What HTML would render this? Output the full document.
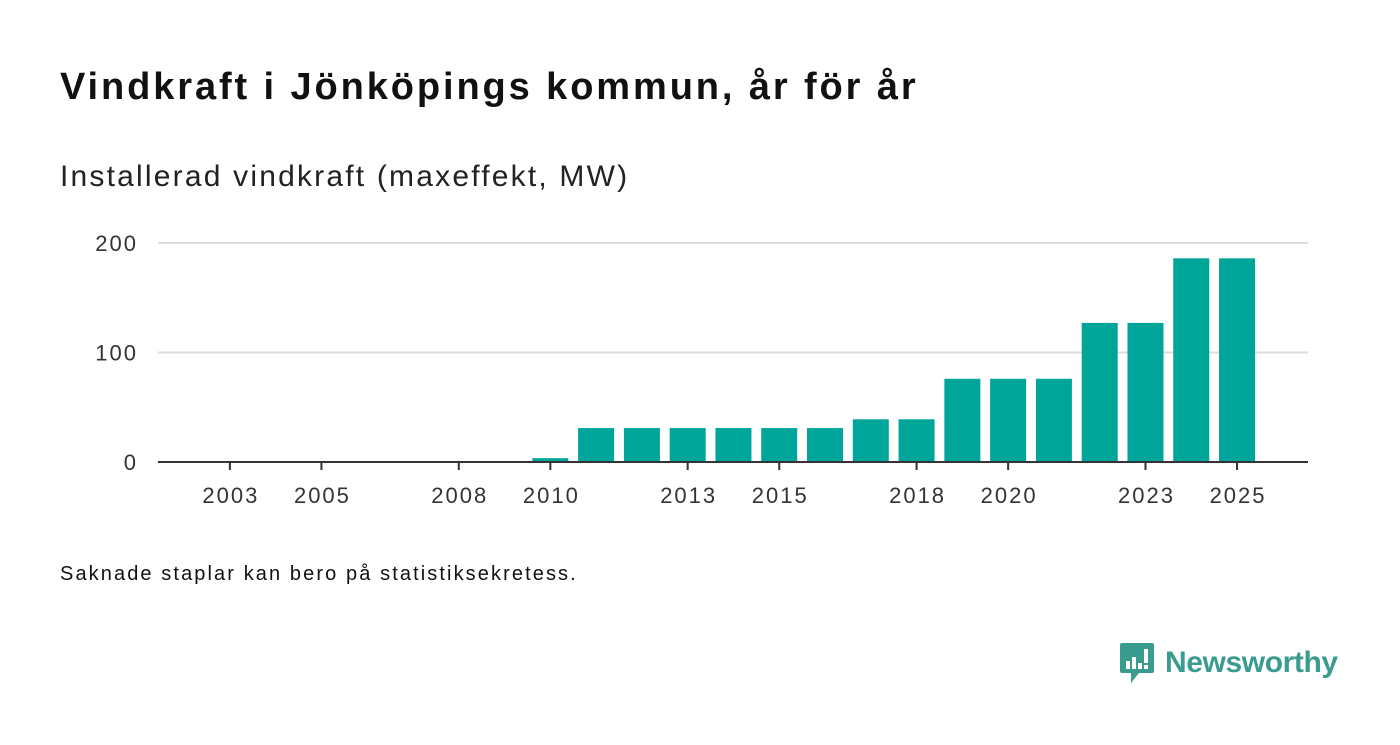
<!DOCTYPE html>
<html><head><meta charset="utf-8"><style>
body{margin:0;width:1400px;height:745px;background:#fff;font-family:"Liberation Sans",sans-serif;overflow:hidden;position:relative;color:#111}
.t{position:absolute;white-space:nowrap}
</style></head><body>
<div class="t" style="left:60px;top:66px;font-size:38px;font-weight:bold;letter-spacing:2.9px">Vindkraft i Jönköpings kommun, år för år</div>
<div class="t" style="left:60px;top:160px;font-size:30px;color:#222;letter-spacing:2.2px">Installerad vindkraft (maxeffekt, MW)</div>
<svg id="chart" width="1400" height="560" style="position:absolute;left:0;top:0"></svg>
<div class="t" style="left:60px;top:563px;font-size:20px;letter-spacing:2.1px">Saknade staplar kan bero på statistiksekretess.</div>
<div class="t" style="left:1119px;top:641px;display:flex;align-items:center">
<svg width="36" height="44" viewBox="0 0 36 44"><path d="M3 2h30a2 2 0 0 1 2 2v26a2 2 0 0 1-2 2H20l-8 10v-10H3a2 2 0 0 1-2-2V4a2 2 0 0 1 2-2z" fill="#3a9c8f"/><rect x="7" y="20" width="4" height="8" fill="#fff"/><rect x="13" y="16" width="4" height="12" fill="#fff"/><rect x="19" y="22" width="4" height="6" fill="#fff"/><rect x="25" y="8" width="4" height="14" fill="#fff"/><rect x="25" y="24" width="4" height="4" fill="#fff"/></svg>
<span style="font-size:30px;font-weight:bold;color:#3a9c8f;margin-left:10px;letter-spacing:-0.4px">Newsworthy</span></div>
<script>
const years=[2010,2011,2012,2013,2014,2015,2016,2017,2018,2019,2020,2021,2022,2023,2024,2025];
const values=[3.5,31,31,31,31,31,31,39,39,76,76,76,127,127,186,186];
const xTicks=[2003,2005,2008,2010,2013,2015,2018,2020,2023,2025];
const yTicks=[0,100,200];
const svg=document.getElementById('chart');
const NS='http://www.w3.org/2000/svg';
const x=v=>158+(v-2001.43)*(1150/25.12);
const y=v=>462-v*1.095;
function mk(t,a){const e=document.createElementNS(NS,t);for(const k in a)e.setAttribute(k,a[k]);svg.appendChild(e);return e;}
yTicks.forEach(v=>{
 if(v>0){const g=mk('line',{x1:158,x2:1308,y1:y(v),y2:y(v),stroke:'#ddd','stroke-width':2});
 
 }
 const t=mk('text',{x:138,y:y(v)+8,'text-anchor':'end','font-size':22,fill:'#333','letter-spacing':2,'font-family':'Liberation Sans, sans-serif'});
 t.textContent=v;
 
 
});
years.forEach((yr,i)=>{
 const r=mk('rect',{x:x(yr)-18,width:36,y:y(values[i]),height:462-y(values[i]),fill:'#00a599'});
 
 
});
const ax=mk('line',{x1:158,x2:1308,y1:462,y2:462,stroke:'#333','stroke-width':2});


xTicks.forEach(v=>{
 const l=mk('line',{x1:x(v),x2:x(v),y1:462,y2:470,stroke:'#333','stroke-width':2});
 
 
 const t=mk('text',{x:x(v)+1,y:503,'text-anchor':'middle','font-size':22,fill:'#333','letter-spacing':2,'font-family':'Liberation Sans, sans-serif'});
 t.textContent=v;
 
 
});
</script>
</body></html>
